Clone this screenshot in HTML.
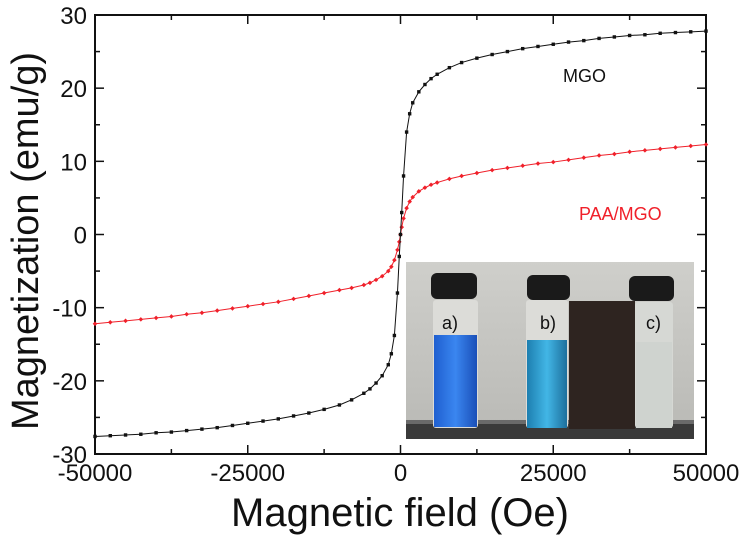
<!DOCTYPE html>
<html><head><meta charset="utf-8"><style>
body{margin:0;background:#fff;}
svg text{font-family:"Liberation Sans",Arial,sans-serif;}
</style></head><body>
<svg width="749" height="537" viewBox="0 0 749 537">
<defs>
<linearGradient id="bg" x1="0" x2="0" y1="0" y2="1"><stop offset="0" stop-color="#cfcfcb"/><stop offset="1" stop-color="#b9b9b5"/></linearGradient>
<linearGradient id="blueA" x1="0" x2="1"><stop offset="0" stop-color="#1f5fd0"/><stop offset="0.5" stop-color="#3a86f0"/><stop offset="1" stop-color="#1a4fb8"/></linearGradient>
<linearGradient id="blueB" x1="0" x2="1"><stop offset="0" stop-color="#1d7fb0"/><stop offset="0.5" stop-color="#42b6e6"/><stop offset="1" stop-color="#1d6f9c"/></linearGradient>
</defs>
<g id="inset">
<rect x="406" y="262" width="288" height="177" fill="url(#bg)"/>
<rect x="406" y="422" width="288" height="17" fill="#3a3a3a"/>
<rect x="406" y="420" width="288" height="4" fill="#6a6a6a"/>
<rect x="569" y="301" width="66" height="128" fill="#2e2420"/>
<g>
<rect x="433" y="300" width="45" height="128" rx="3" fill="#dcdcd8"/>
<rect x="434" y="335" width="43" height="92" fill="url(#blueA)"/>
<rect x="427" y="273" width="46" height="26" rx="6" fill="#1a1a1a" transform="translate(4,0)"/>
<text x="442" y="329" font-size="18" fill="#111">a)</text></g>
<g>
<rect x="526" y="300" width="42" height="128" rx="3" fill="#dcdcd8"/>
<rect x="527" y="340" width="40" height="88" fill="url(#blueB)"/>
<rect x="527" y="275" width="43" height="25" rx="6" fill="#1a1a1a"/>
<text x="540" y="329" font-size="18" fill="#111">b)</text></g>
<g>
<rect x="635" y="302" width="38" height="126" rx="3" fill="#d6d8d4"/>
<rect x="636" y="342" width="36" height="86" fill="#cfd3cf"/>
<rect x="629" y="276" width="45" height="25" rx="6" fill="#1a1a1a"/>
<text x="646" y="329" font-size="18" fill="#111">c)</text></g>
</g>
<g id="axes"></g>
<g id="series"></g>
<text x="563" y="82" font-size="18" fill="#111">MGO</text>
<text x="579" y="220" font-size="18" fill="#f0202a">PAA/MGO</text>
<text transform="translate(38,241) rotate(-90)" text-anchor="middle" font-size="38" fill="#111">Magnetization (emu/g)</text>
<text x="400" y="526" text-anchor="middle" font-size="40" fill="#111">Magnetic field (Oe)</text>
</svg>
<script>
const fields=[-50000,-47500,-45000,-42500,-40000,-37500,-35000,-32500,-30000,-27500,-25000,-22500,-20000,-17500,-15000,-12500,-10000,-8000,-6000,-5000,-4000,-3000,-2000,-1500,-1000,-500,-200,0,200,500,1000,1500,2000,3000,4000,5000,6000,8000,10000,12500,15000,17500,20000,22500,25000,27500,30000,32500,35000,37500,40000,42500,45000,47500,50000];
const mgoValues=[-27.6,-27.5,-27.4,-27.3,-27.1,-27.0,-26.8,-26.6,-26.4,-26.1,-25.8,-25.5,-25.2,-24.8,-24.4,-23.9,-23.3,-22.6,-21.7,-21.1,-20.3,-19.3,-17.8,-16.3,-13.8,-8,-3,0,3,8,14,16.5,18,19.5,20.5,21.3,21.9,22.8,23.5,24.1,24.6,25.0,25.4,25.7,26.0,26.3,26.5,26.8,27.0,27.2,27.3,27.5,27.6,27.7,27.8];
const paaValues=[-12.2,-12.0,-11.8,-11.6,-11.4,-11.2,-10.9,-10.7,-10.4,-10.1,-9.8,-9.5,-9.2,-8.8,-8.4,-8.0,-7.6,-7.3,-6.9,-6.6,-6.2,-5.7,-5.0,-4.4,-3.5,-2.1,-1,0,1,2.2,3.6,4.5,5.1,5.9,6.4,6.8,7.1,7.6,8.0,8.4,8.8,9.1,9.4,9.7,9.9,10.2,10.5,10.8,11.0,11.3,11.5,11.7,11.9,12.1,12.3];
const xTicks=[-50000,-25000,0,25000,50000];
const xTickLabels=["-50000","-25000","0","25000","50000"];
const yTicks=[-30,-20,-10,0,10,20,30];
const yTickLabels=["-30","-20","-10","0","10","20","30"];
const L=95,R=706,T=15,B=454;
const sx=v=>L+(v+50000)/100000*(R-L);
const sy=v=>B-(v+30)/60*(B-T);
const NS="http://www.w3.org/2000/svg";
function mk(tag,at,parent){const e=document.createElementNS(NS,tag);for(const k in at)e.setAttribute(k,at[k]);parent.appendChild(e);return e;}
const ax=document.getElementById('axes');
const frame=mk('rect',{x:L,y:T,width:R-L,height:B-T,fill:'none',stroke:'#111','stroke-width':2},ax);


for(let v=-50000;v<=50000;v+=12500){const major=v%25000===0;const len=major?9:5;
 mk('line',{x1:sx(v),x2:sx(v),y1:B,y2:B-len,stroke:'#111','stroke-width':1.5},ax);
 mk('line',{x1:sx(v),x2:sx(v),y1:T,y2:T+len,stroke:'#111','stroke-width':1.5},ax);}
for(let v=-30;v<=30;v+=5){const major=v%10===0;const len=major?9:5;
 mk('line',{x1:L,x2:L+len,y1:sy(v),y2:sy(v),stroke:'#111','stroke-width':1.5},ax);
 mk('line',{x1:R,x2:R-len,y1:sy(v),y2:sy(v),stroke:'#111','stroke-width':1.5},ax);}
xTicks.forEach((v,i)=>{const t=mk('text',{x:sx(v),y:B+27,'text-anchor':'middle','font-size':24,fill:'#111'},ax);t.textContent=xTickLabels[i];
 
 });
yTicks.forEach((v,i)=>{const t=mk('text',{x:L-8,y:sy(v)+9,'text-anchor':'end','font-size':24,fill:'#111'},ax);t.textContent=yTickLabels[i];
 
 });
const sr=document.getElementById('series');
function draw(vals,color,name,diamond){
 const g=mk('g',{},sr);
 
 
 mk('polyline',{points:fields.map((f,i)=>sx(f)+','+sy(vals[i])).join(' '),fill:'none',stroke:color,'stroke-width':1},g);
 fields.forEach((f,i)=>{const x=sx(f),y=sy(vals[i]);
  const m=diamond?mk('path',{d:`M${x} ${y-2.3}L${x+2.3} ${y}L${x} ${y+2.3}L${x-2.3} ${y}Z`,fill:color},g):mk('rect',{x:x-1.7,y:y-1.7,width:3.4,height:3.4,fill:color},g);
  
  });
}
draw(paaValues,'#f0202a','paa-mgo-series',true);
draw(mgoValues,'#111','mgo-series',false);
</script>
</body></html>
